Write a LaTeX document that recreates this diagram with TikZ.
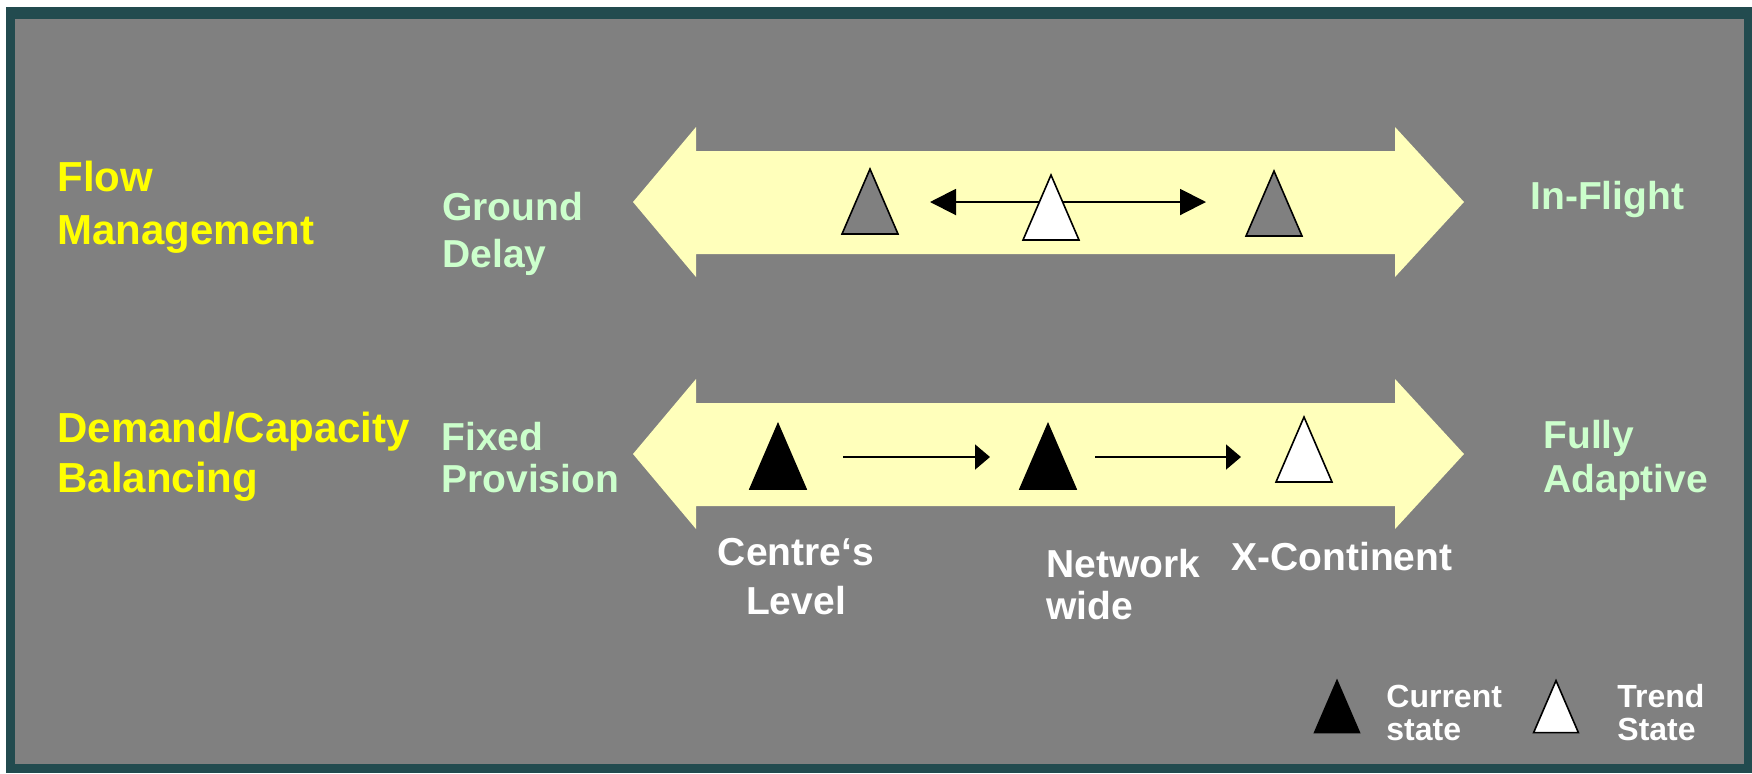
\documentclass[tikz,border=0pt]{standalone}
\usepackage{fontspec}
\setmainfont{Liberation Sans}
\usetikzlibrary{arrows.meta, positioning}
\definecolor{slideframe}{RGB}{34,75,79}
\definecolor{slidegray}{RGB}{128,128,128}
\definecolor{bandyellow}{RGB}{255,255,187}
\definecolor{labelgreen}{RGB}{204,255,204}
\definecolor{titleyellow}{RGB}{255,255,0}

\begin{document}
\begin{tikzpicture}[x=0.5pt, y=-0.5pt,
				texts/.style = {inner sep=0pt, anchor=base west, align=left},
				headtext/.style = {texts, text=titleyellow, font=\bfseries\fontsize{21}{26.5}\selectfont},
				endtext/.style = {texts, text=labelgreen, font=\bfseries\fontsize{19.5}{23.5}\selectfont},
				leveltext/.style = {texts, text=white, font=\bfseries\fontsize{19.5}{24}\selectfont},
				keytext/.style = {texts, text=white, font=\bfseries\fontsize{16}{16.5}\selectfont},
				current/.style = {fill=black, draw=black, line width=0.8pt},
				trend/.style = {fill=white, draw=black, line width=0.8pt},
				greystate/.style = {fill=slidegray, draw=black, line width=0.8pt},
				swing/.style = {draw=black, line width=1pt, {Triangle[length=13pt, width=13pt]}-{Triangle[length=13pt, width=13pt]}},
				advance/.style = {draw=black, line width=0.9pt, -{Triangle[length=7.5pt, width=12.5pt]}},
				pics/marker/.style = {code={\draw[pic actions] (-28,32) -- (0,-33) -- (28,32) -- cycle;}},
				pics/span/.style = {code={\fill[bandyellow] (-415,0) -- (-352,-75) -- (-352,-51) -- (347,-51) -- (347,-75) -- (416,0)
					-- (347,75) -- (347,52) -- (-352,52) -- (-352,75) -- cycle;}}
				]
				% slide frame
				\useasboundingbox[fill=white] (0,0) rectangle (1752,773);
				\fill[slideframe] (6,7) rectangle (1752,773);
				\fill[slidegray] (15,19) rectangle (1744,764);
				
				% the two scales
				\pic at (1048,202) {span};
				\pic at (1048,454) {span};
				
				% flow management (nodes sit on the baseline of their last line)
				\node[headtext] (flow) at (57,244) {Flow\\Management};
				\node[endtext] (ground) at (442,267) {Ground\\Delay};
				\node[endtext] (inflight) at (1530,209) {In-Flight};
				\coordinate (gl) at (870,202);
				\coordinate (tw) at (1051,208);
				\coordinate (gr) at (1274,204);
				\pic[greystate] at (gl) {marker};
				\pic[greystate] at (gr) {marker};
				\draw[swing, shorten <=30pt, shorten >=34pt] (gl) -- (gl -| gr);
				\pic[trend] at (tw) {marker};
				
				% demand/capacity balancing
				\node[headtext] (demand) at (57,492) {Demand/Capacity\\[-1.5pt]Balancing};
				\node[endtext] (fixed) at (441,492) {Fixed\\[-2.5pt]Provision};
				\node[endtext] (fully) at (1543,492) {Fully\\[-1.5pt]Adaptive};
				\coordinate (cl) at (778,457);
				\coordinate (cn) at (1048,457);
				\coordinate (tx) at (1304,450);
				\pic[current] at (cl) {marker};
				\pic[current] at (cn) {marker};
				\pic[trend] at (tx) {marker};
				\draw[advance, shorten <=32.5pt, shorten >=29pt] (cl) -- (cn);
				\draw[advance, shorten <=23.5pt, shorten >=31.5pt] (cn) -- (cn -| tx);
				\node[leveltext, align=center, anchor=base] (centre) at (796,614) {Centre‘s\\[0.5pt]Level};
				\node[leveltext] (network) at (1046,619) {Network\\[-3pt]wide};
				\node[leveltext] (xcont) at (1231,570) {X-Continent};
				
				% key
				\coordinate (kc) at (1337,707);
				\coordinate (kt) at (1556,707);
				\pic[current, scale=0.8] at (kc) {marker};
				\pic[trend, scale=0.8] at (kt) {marker};
				\node[keytext] (keycur) at (1386,740) {Current\\state};
				\node[keytext] (keytrend) at (1617,740) {Trend\\State};
\end{tikzpicture}
\end{document}
